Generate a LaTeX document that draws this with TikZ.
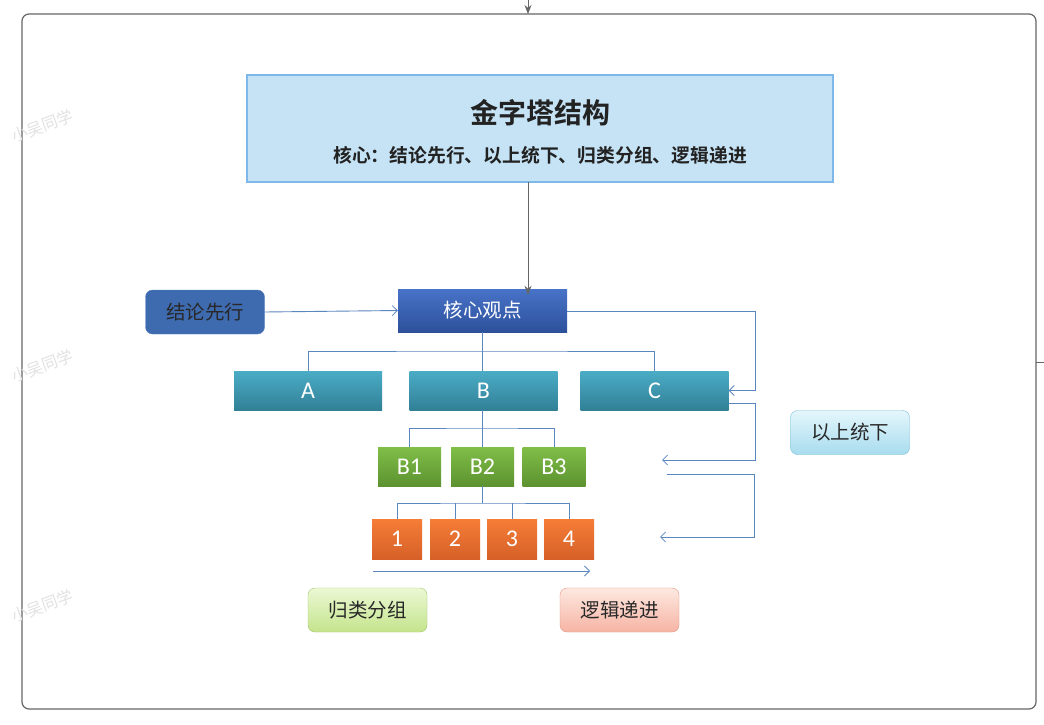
\documentclass[tikz,border=0pt]{standalone}
\usepackage{fontspec}
\newfontfamily\cjk{Noto Sans CJK SC}
\newfontfamily\cjkb{Noto Sans CJK SC Bold}
\newfontfamily\lat{Carlito}
\usetikzlibrary{arrows.meta}
\definecolor{frame}{HTML}{666666}
\definecolor{lnk}{HTML}{5B87C0}
\definecolor{titlefill}{HTML}{C5E3F5}
\definecolor{titledraw}{HTML}{7DB8E8}
\tikzset{
  box/.style={draw=none, minimum height=#1, inner sep=0pt, font=\cjk\fontsize{19.5}{19.5}\selectfont},
  tealbox/.style={box=39pt, minimum width=148pt, top color={rgb,255:red,75;green,172;blue,198}, bottom color={rgb,255:red,49;green,128;blue,150}, text=white, font=\lat\fontsize{24}{24}\selectfont},
  greenbox/.style={box=39pt, minimum width=63pt, top color={rgb,255:red,128;green,190;blue,72}, bottom color={rgb,255:red,92;green,146;blue,48}, text=white, font=\lat\fontsize{24}{24}\selectfont},
  orangebox/.style={box=40pt, minimum width=50pt, top color={rgb,255:red,245;green,125;blue,55}, bottom color={rgb,255:red,214;green,96;blue,40}, text=white, font=\lat\fontsize{24}{24}\selectfont},
  label/.style={rounded corners=7pt, minimum width=119pt, minimum height=44pt, inner sep=0pt, font=\cjk\fontsize{19.5}{19.5}\selectfont, text={rgb,255:red,40;green,40;blue,40}},
  conn/.style={draw=lnk, line width=0.9pt},
  openarrow/.style={conn, -{Straight Barb[length=5pt,width=10pt,line width=0.8pt]}},
  grayarrow/.style={draw=frame, line width=1pt, -{Stealth[length=9pt,width=7pt]}},
  wm/.style={text={rgb,255:red,226;green,226;blue,226}, font=\cjk\fontsize{16}{16}\selectfont, rotate=20, inner sep=0pt}
}
\begin{document}
\begin{tikzpicture}[x=1pt,y=-1pt]
\useasboundingbox (0,0) rectangle (1044,725);
\fill[white] (0,0) rectangle (1044,725);
% outer frame
\draw[frame, line width=1.2pt, rounded corners=7pt] (22,14) rectangle (1036,709);
\coordinate (topin) at (528,0);
\coordinate (topend) at (528,14);
\draw[grayarrow] (topin) -- (topend);
\coordinate (rs) at (1036,362);
\coordinate (re) at (1044,362);
\draw[frame, line width=1pt] (rs) -- (re);
% watermarks
\node[wm] (w1) at (42,126) {小吴同学};
\node[wm] (w2) at (42,366) {小吴同学};
\node[wm] (w3) at (42,606) {小吴同学};
% title
\node[draw=titledraw, line width=1.2pt, fill=titlefill, minimum width=586pt, minimum height=107pt, inner sep=0pt] (title) at (540,128.5) {};
\node[font=\cjkb\fontsize{28}{28}\selectfont, text={rgb,255:red,34;green,34;blue,34}] (tt) at (540,113) {金字塔结构};
\node[font=\cjkb\fontsize{18.8}{18.8}\selectfont, text={rgb,255:red,34;green,34;blue,34}] (ts) at (540,155) {核心：结论先行、以上统下、归类分组、逻辑递进};
% core
\node[box=43pt, minimum width=169pt, top color={rgb,255:red,72;green,115;blue,200}, bottom color={rgb,255:red,45;green,80;blue,155}, text=white] (core) at (482.5,310.5) {核心观点};
\coordinate (tdown) at (528,182);
\draw[grayarrow] (tdown) -- ([yshift=-6pt]tdown |- core.north);
\node[label, fill={rgb,255:red,62;green,106;blue,176}, draw={rgb,255:red,90;green,130;blue,190}] (jl) at (205,312) {结论先行};
\draw[openarrow] (jl.east) -- (core.west);
% A B C
\node[tealbox] (A) at (308,390.5) {A};
\node[tealbox] (B) at (483.5,390.5) {B};
\node[tealbox] (C) at (654.5,390.5) {C};
\coordinate (j1) at (482.5,351);
\draw[conn] (core.south) -- (j1);
\draw[conn] (A.north) |- (j1) -| (C.north);
\draw[conn] (j1) -- (B.north -| j1);
\coordinate (rc1) at (755,311);
\draw[openarrow] (core.east |- rc1) -- (rc1) |- (C.east);
% B1 B2 B3
\node[greenbox] (B1) at (409.5,466.5) {B1};
\node[greenbox] (B2) at (482.5,466.5) {B2};
\node[greenbox] (B3) at (554,466.5) {B3};
\coordinate (j2) at (482.5,428);
\draw[conn] (B.south -| j2) -- (j2);
\draw[conn] (B1.north) |- (j2) -| (B3.north);
\draw[conn] (j2) -- (B2.north);
\coordinate (rc2) at (755,403);
\coordinate (a1) at (662,460);
\draw[openarrow] (C.east |- rc2) -- (rc2) |- (a1);
\coordinate (s3) at (667,474);
\coordinate (rc3) at (754,474);
\coordinate (a2) at (660,537);
\draw[openarrow] (s3) -- (rc3) |- (a2);
% 1 2 3 4
\node[orangebox] (n1) at (397,539) {1};
\node[orangebox] (n2) at (455,539) {2};
\node[orangebox] (n3) at (512,539) {3};
\node[orangebox] (n4) at (569,539) {4};
\coordinate (j3) at (482.5,503);
\draw[conn] (B2.south) -- (j3);
\draw[conn] (n1.north) |- (j3) -| (n4.north);
\draw[conn] (n2.north) -- (n2.north |- j3);
\draw[conn] (n3.north) -- (n3.north |- j3);
\coordinate (b1) at (373,571);
\coordinate (b2) at (590,571);
\draw[openarrow] (b1) -- (b2);
% labels
\node[label, top color={rgb,255:red,236;green,248;blue,212}, bottom color={rgb,255:red,196;green,228;blue,140}, draw={rgb,255:red,160;green,200;blue,110}] (gl) at (367.5,610) {归类分组};
\node[label, top color={rgb,255:red,253;green,232;blue,224}, bottom color={rgb,255:red,246;green,180;blue,164}, draw={rgb,255:red,228;green,150;blue,130}] (lj) at (619.5,610) {逻辑递进};
\node[label, top color={rgb,255:red,228;green,246;blue,252}, bottom color={rgb,255:red,168;green,220;blue,238}, draw={rgb,255:red,124;green,190;blue,215}] (ys) at (850,432.5) {以上统下};
\end{tikzpicture}
\end{document}
